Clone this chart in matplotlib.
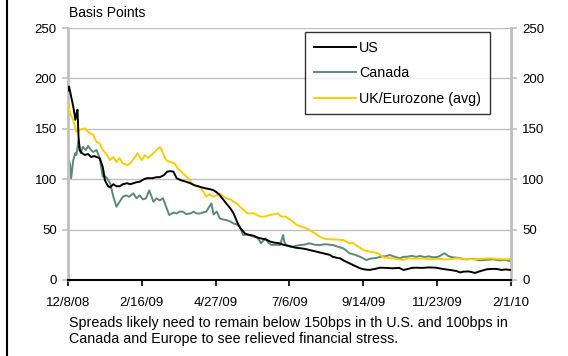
import datetime as dt
import matplotlib
matplotlib.use("Agg")
import matplotlib.pyplot as plt
from matplotlib.lines import Line2D

plt.rcParams['font.family'] = ['Liberation Sans', 'DejaVu Sans']

START = dt.date(2008, 12, 8)

# Spreads in basis points; x values are days since 12/8/08
us_days = [0, 1, 3, 5, 7, 8, 9, 10, 11, 13, 16, 19, 22, 25, 27, 30, 33, 35, 38, 40,
           43, 46, 49, 52, 56, 59, 62, 65, 68, 72, 75, 80, 84, 87, 91, 94, 97, 100, 103, 107,
           112, 116, 120, 125, 130, 135, 138, 141, 144, 147, 150, 154, 157, 159, 161.5, 163, 165, 168, 172, 176,
           180, 184, 188, 192, 196, 200, 204, 208, 212, 216, 220, 224, 228, 232, 236, 240, 244, 248, 251.5, 255,
           258, 262, 267, 272, 277, 281, 286, 291, 296, 302, 308, 314, 318, 321, 326, 330, 336, 342, 349, 355,
           362, 368, 372, 375, 380, 386, 390, 397, 402, 406, 411, 415, 419]
us_vals = [188, 192, 182, 172, 159, 165, 169, 142, 129, 126, 124, 125, 122, 123, 122, 121, 112, 99, 93, 92,
           95, 93, 93, 95, 96, 95, 96, 97, 97.5, 100, 101, 101, 102, 102, 104, 107.5, 108, 107.5, 101, 99,
           97.5, 96, 94, 92.5, 91, 90, 89, 87, 84, 80, 76, 71, 66, 61, 56, 52, 49.6, 46, 44.6, 44,
           42, 41, 40, 38, 37, 36.5, 35, 34, 33, 32, 31.5, 31, 30, 29, 28, 27, 26, 25, 23, 22,
           21.5, 19, 16.5, 14, 11.6, 10.5, 10, 11, 12.2, 12, 11.6, 12, 10, 10.6, 12, 12.2, 12, 12.5, 12.2, 11,
           10, 9, 7.5, 8.3, 8.5, 7, 8.5, 10.6, 11, 11, 10, 10.5, 10]

canada_days = [0, 1, 2, 3.5, 5, 7, 8, 10, 12, 14.5, 17.5, 19, 21, 24, 27, 30, 33.5, 35, 37, 40,
               43, 46, 49, 52, 55.6, 58.8, 62, 65, 68, 71, 74.6, 77.7, 81, 84, 87, 90, 93.5, 96.7, 100, 103,
               106, 109, 112.5, 116, 119, 122, 125, 128, 131, 134.6, 136, 138, 141, 144, 147, 150, 154, 157, 160, 163,
               166, 169, 172.5, 176, 179, 181, 183.6, 187, 190, 193, 197, 201, 204, 205, 207, 210, 213.6, 217, 220, 224,
               229, 234, 239, 244, 248, 251.5, 256, 261, 264, 267, 272, 277, 283, 286, 289.5, 293, 296, 301, 305.5, 310,
               315, 318, 321, 326, 330, 334, 338, 342, 346.5, 351, 357, 361, 365, 370, 374, 378, 384, 390.6, 397, 403,
               409, 414, 419]
canada_vals = [112, 119, 114, 101, 119, 126, 124, 139, 126, 132, 129, 133, 130, 127, 129, 121, 102.5, 103, 101, 96,
               82.6, 72.7, 77.7, 82.6, 84, 82.6, 86, 81, 84, 80, 81, 89, 77.7, 81, 79, 81, 72.7, 64.5, 67, 66,
               68, 67.7, 65.4, 66, 67.7, 66, 66, 67, 67.7, 72.7, 76, 65, 67.8, 61, 60, 59.5, 58, 56, 55, 53,
               44.6, 45, 44.6, 43, 42.3, 40, 36.4, 41.3, 37, 34.7, 35, 34.7, 44.6, 38, 34.7, 33.5, 33, 34, 34.7, 35,
               36.4, 35, 34.7, 35.5, 35, 34.7, 33, 31.4, 29, 26.5, 25, 23, 19.8, 21, 21.5, 22, 23, 23.5, 24.8, 23,
               21.5, 23, 23, 24, 23, 23.8, 22.8, 23.5, 22.5, 23, 26.5, 23.5, 22.5, 22, 21, 20.5, 21, 19.5, 20, 20.5,
               19.5, 20, 18.8]

euro_days = [0, 2, 5, 8, 11, 16, 18, 21, 24, 27, 30, 33.5, 37, 40, 43, 46, 49, 52, 57, 60,
             63, 66.6, 70, 73, 76, 78, 81, 84, 87, 89, 92, 94, 96.7, 101, 104.6, 109, 114, 116, 119, 122,
             125, 128, 131.5, 134, 138, 141, 144, 147, 150, 154, 157, 160, 163, 166, 170, 173, 176, 180, 183.6, 187,
             191.5, 195, 199, 201, 203, 206, 209, 213, 217, 221, 226, 230, 234, 238, 242, 246, 251.5, 256, 261, 264,
             267, 270, 273.7, 277, 280, 286, 290, 294, 297, 299, 303, 308, 313, 318, 321, 324.5, 330, 334, 340, 346.5,
             352, 357, 362, 368.5, 376, 384, 392, 400, 406, 413, 419]
euro_vals = [175, 165, 159, 147, 149, 150.5, 148, 145.5, 144, 137, 135.6, 129, 124, 119, 122, 117, 121, 115.7, 114, 117,
             121, 125.7, 119, 124, 121, 123, 125.7, 129, 132, 129, 120.7, 118, 117.5, 115.7, 110.8, 105.8, 101, 98, 94, 93,
             92.6, 88, 82.7, 85, 82.7, 84, 86, 83, 81, 80, 77.7, 76, 72.7, 70, 66.1, 66, 66.1, 64, 62.8, 63,
             64.5, 65, 66.1, 64, 62.8, 63, 61, 58, 54.6, 53, 51.3, 49, 46.3, 43.5, 41.3, 40.5, 40.3, 40, 39.7, 38,
             36.4, 37, 34.7, 32, 29.8, 28, 27.5, 26.5, 24, 22.5, 22, 21.5, 20.5, 19.8, 21, 21.5, 21, 21.5, 21, 20.5,
             21, 20.5, 20.5, 21.5, 21, 20.5, 21, 21.5, 21, 20.5, 20.5]

series_names = ["US", "Canada", "UK/Eurozone (avg)"]
series_colors = ["#000000", "#5b8b78", "#ffcc00"]

tick_dates = ["12/8/08", "2/16/09", "4/27/09", "7/6/09", "9/14/09", "11/23/09", "2/1/10"]
y_ticks = [0, 50, 100, 150, 200, 250]

caption = ("Spreads likely need to remain below 150bps in th U.S. and 100bps in\n"
           "Canada and Europe to see relieved financial stress.")


def to_dates(days):
    return [START + dt.timedelta(days=d) for d in days]


fig = plt.figure(figsize=(5.68, 3.56), dpi=100)
ax = fig.add_axes([0.1197, 0.2135, 0.7799, 0.7078])

grid_gray = "#c0c0c0"
for y in y_ticks[1:]:
    ax.axhline(y, color=grid_gray, lw=1.0, zorder=1)

data = {
    "US": (us_days, us_vals),
    "Canada": (canada_days, canada_vals),
    "UK/Eurozone (avg)": (euro_days, euro_vals),
}
handles = {}
for name, color, z in zip(series_names, series_colors, [4, 2, 3]):
    d, v = data[name]
    (h,) = ax.plot(to_dates(d), v, color=color, lw=1.4, zorder=z, label=name)
    handles[name] = h

tick_pos = [dt.datetime.strptime(t, "%m/%d/%y").date() for t in tick_dates]
ax.set_xlim(tick_pos[0], tick_pos[-1])
ax.set_ylim(0, 250)
ax.set_xticks(tick_pos)
ax.set_xticklabels(tick_dates)
ax.set_yticks(y_ticks)

ax.tick_params(axis="x", direction="out", length=4, width=1.2, color="black",
               labelsize=9.5, pad=8)
ax.tick_params(axis="y", direction="out", length=4, width=1.2, color=grid_gray,
               labelsize=9.5, left=True, right=True, labelleft=True, labelright=True, pad=4)

for side in ["left", "right"]:
    ax.spines[side].set_color(grid_gray)
    ax.spines[side].set_linewidth(2)
ax.spines["top"].set_visible(False)
ax.spines["bottom"].set_color("black")
ax.spines["bottom"].set_linewidth(1.5)
ax.spines["bottom"].set_zorder(5)

leg = ax.legend([handles[n] for n in series_names], series_names,
                loc="upper left", bbox_to_anchor=(0.535, 0.984),
                fontsize=10.3, frameon=True, fancybox=False, edgecolor="black",
                handlelength=3.0, handletextpad=0.2, labelspacing=0.8,
                borderpad=0.6, borderaxespad=0)
leg.get_frame().set_linewidth(1.0)

fig.text(69 / 568, 1 - 13 / 356, "Basis Points", fontsize=10, va="center", ha="left")
fig.text(69 / 568, 1 - 316 / 356, caption, fontsize=10.3, va="top", ha="left", linespacing=1.15)

fig.add_artist(Line2D([6.5 / 568, 6.5 / 568], [0, 1], color="black", lw=1.5,
                      transform=fig.transFigure))

fig.savefig("out.png", dpi=100)
